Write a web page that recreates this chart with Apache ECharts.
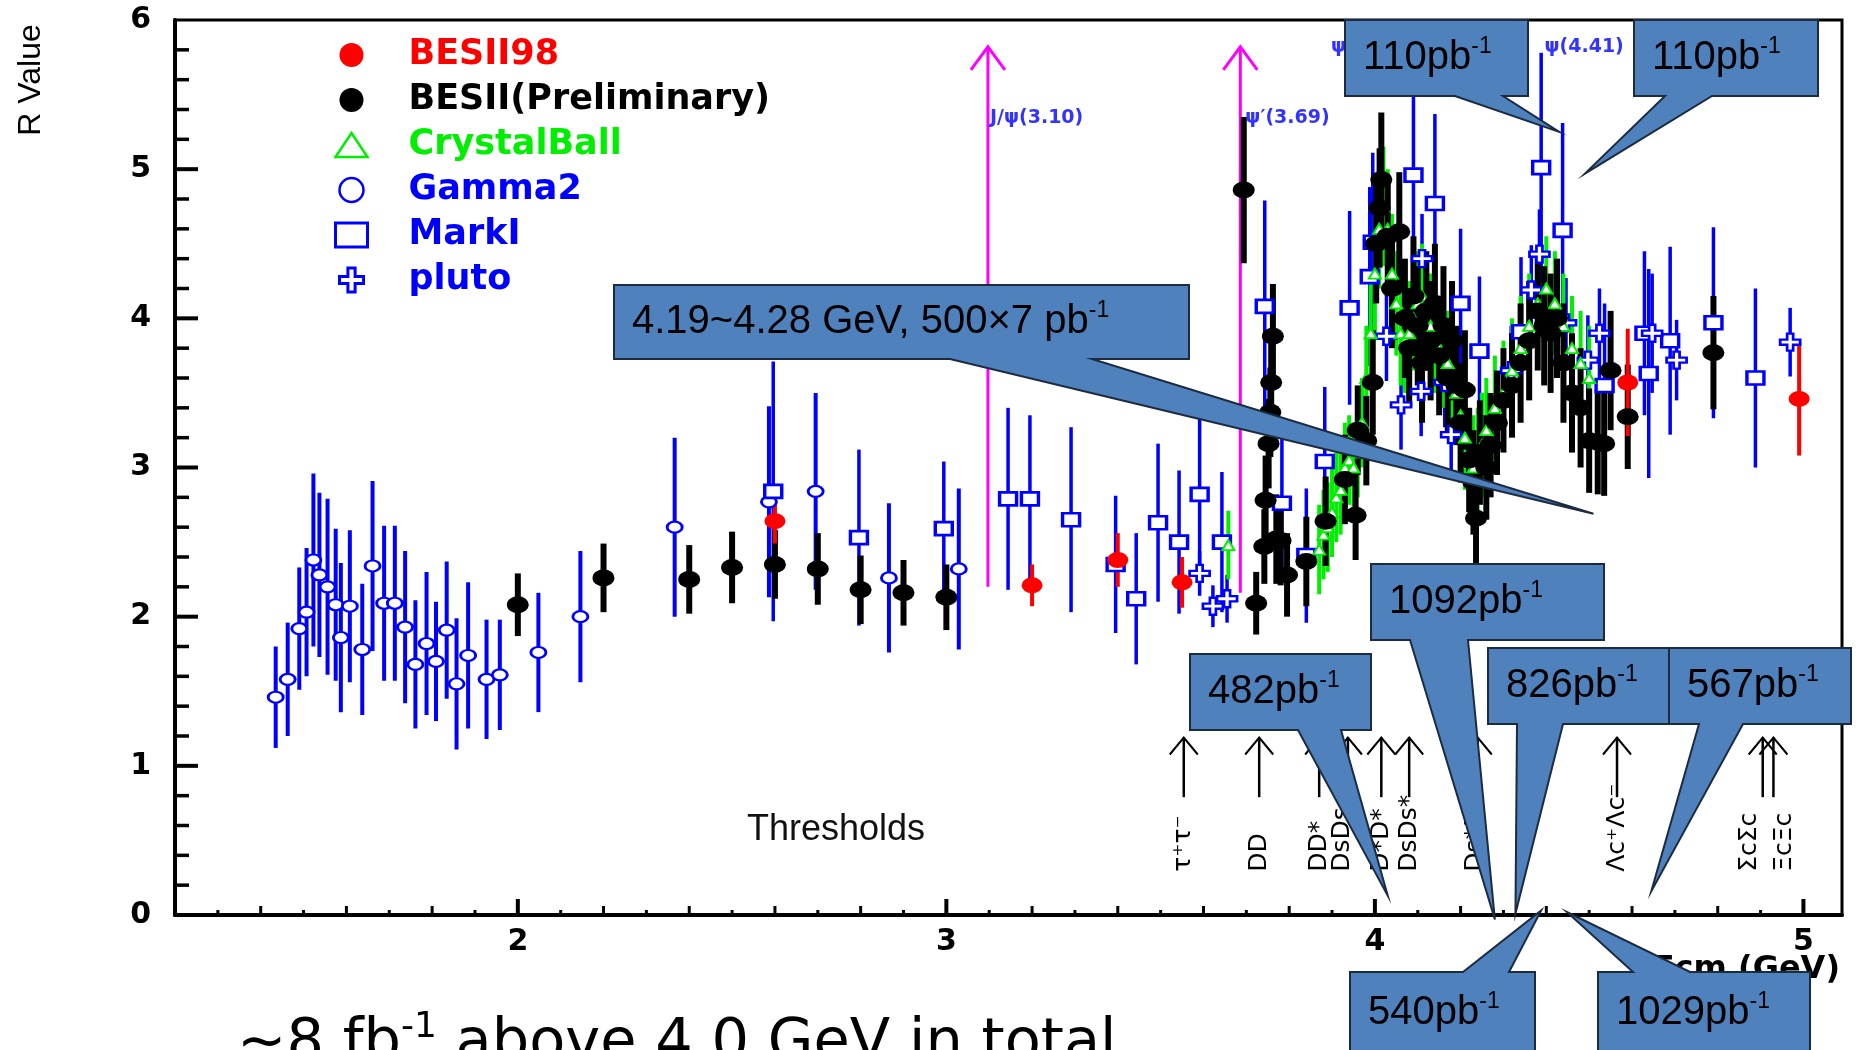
<!DOCTYPE html>
<html>
<head>
<meta charset="utf-8">
<script src="https://cdn.jsdelivr.net/npm/echarts@6/dist/echarts.min.js"></script>
<style>
  html, body { margin: 0; padding: 0; background: #fff; }
  #chart { width: 1860px; height: 1050px; }
</style>
</head>
<body>
<div id="chart"></div>
<script>
// ---- data: [Ecm (GeV), R, error] ----
const besii98 = [
  [2.600, 2.64, 0.15], [3.200, 2.21, 0.14], [3.400, 2.38, 0.18], [3.550, 2.23, 0.17],
  [4.590, 3.57, 0.36], [4.990, 3.46, 0.38]
];
const besii = [
  [2.000, 2.08, 0.21], [2.200, 2.26, 0.23], [2.400, 2.25, 0.23], [2.500, 2.33, 0.24],
  [2.600, 2.35, 0.23], [2.700, 2.32, 0.24], [2.800, 2.18, 0.23], [2.900, 2.16, 0.22],
  [3.000, 2.13, 0.22], [3.694, 4.86, 0.49], [3.723, 2.09, 0.21], [3.742, 2.47, 0.25],
  [3.745, 2.78, 0.30], [3.752, 3.16, 0.30], [3.756, 3.37, 0.30], [3.758, 3.57, 0.35],
  [3.762, 3.88, 0.35], [3.770, 2.52, 0.30], [3.780, 2.51, 0.30], [3.795, 2.28, 0.28],
  [3.840, 2.37, 0.30], [3.885, 2.64, 0.30], [3.930, 2.92, 0.30], [3.955, 2.68, 0.30],
  [3.960, 3.25, 0.30], [3.980, 3.18, 0.30], [3.995, 3.57, 0.35], [4.003, 4.50, 0.40],
  [4.011, 4.74, 0.40], [4.015, 4.93, 0.45], [4.030, 4.55, 0.40], [4.040, 4.20, 0.40],
  [4.057, 4.58, 0.40], [4.070, 4.00, 0.40], [4.080, 3.80, 0.40], [4.090, 4.15, 0.40],
  [4.100, 3.95, 0.40], [4.110, 3.70, 0.40], [4.120, 4.05, 0.40], [4.130, 3.85, 0.40],
  [4.140, 4.10, 0.40], [4.150, 3.75, 0.40], [4.160, 3.95, 0.40], [4.170, 3.60, 0.40],
  [4.180, 3.85, 0.40], [4.190, 3.55, 0.40], [4.200, 3.30, 0.40], [4.210, 3.52, 0.40],
  [4.220, 3.05, 0.35], [4.230, 2.90, 0.35], [4.236, 2.66, 0.35], [4.245, 3.10, 0.35],
  [4.260, 3.00, 0.35], [4.270, 3.15, 0.35], [4.285, 3.30, 0.35], [4.300, 3.45, 0.35],
  [4.320, 3.55, 0.35], [4.340, 3.70, 0.40], [4.360, 3.85, 0.40], [4.380, 4.05, 0.40],
  [4.395, 3.95, 0.40], [4.410, 3.90, 0.40], [4.425, 4.00, 0.40], [4.440, 3.70, 0.40],
  [4.460, 3.50, 0.40], [4.480, 3.40, 0.40], [4.500, 3.18, 0.35], [4.520, 3.17, 0.35],
  [4.535, 3.16, 0.35], [4.550, 3.65, 0.40], [4.590, 3.34, 0.35], [4.790, 3.77, 0.38]
];
const crystalBall = [
  [3.658, 2.48, 0.23], [3.870, 2.45, 0.30], [3.880, 2.55, 0.30], [3.890, 2.60, 0.30],
  [3.900, 2.70, 0.30], [3.910, 2.80, 0.30], [3.920, 2.85, 0.30], [3.930, 3.00, 0.30],
  [3.940, 3.05, 0.30], [3.950, 3.00, 0.30], [3.960, 3.10, 0.30], [3.970, 3.30, 0.30],
  [3.980, 3.60, 0.35], [3.990, 3.90, 0.35], [4.000, 4.30, 0.40], [4.010, 4.60, 0.40],
  [4.020, 4.75, 0.40], [4.030, 4.60, 0.40], [4.040, 4.30, 0.40], [4.050, 4.10, 0.35],
  [4.060, 3.90, 0.35], [4.070, 3.85, 0.35], [4.080, 3.90, 0.35], [4.090, 4.00, 0.35],
  [4.100, 4.10, 0.35], [4.110, 4.15, 0.35], [4.120, 4.05, 0.35], [4.130, 3.95, 0.35],
  [4.140, 3.85, 0.35], [4.150, 3.80, 0.35], [4.160, 3.75, 0.35], [4.170, 3.70, 0.35],
  [4.180, 3.60, 0.35], [4.190, 3.50, 0.35], [4.200, 3.35, 0.35], [4.210, 3.20, 0.35],
  [4.220, 3.05, 0.35], [4.230, 3.00, 0.35], [4.240, 3.05, 0.35], [4.250, 3.15, 0.35],
  [4.260, 3.25, 0.35], [4.280, 3.40, 0.35], [4.300, 3.50, 0.35], [4.320, 3.65, 0.35],
  [4.340, 3.80, 0.35], [4.360, 3.95, 0.35], [4.380, 4.10, 0.35], [4.400, 4.20, 0.35],
  [4.420, 4.10, 0.35], [4.440, 3.95, 0.35], [4.460, 3.80, 0.35], [4.480, 3.70, 0.35],
  [4.500, 3.60, 0.35]
];
const gamma2 = [
  [1.435, 1.46, 0.34], [1.463, 1.58, 0.38], [1.490, 1.92, 0.41], [1.507, 2.03, 0.43],
  [1.523, 2.38, 0.58], [1.537, 2.28, 0.55], [1.556, 2.20, 0.59], [1.575, 2.08, 0.51],
  [1.587, 1.86, 0.50], [1.608, 2.07, 0.51], [1.637, 1.78, 0.44], [1.661, 2.34, 0.57],
  [1.688, 2.09, 0.52], [1.713, 2.09, 0.52], [1.737, 1.93, 0.51], [1.761, 1.68, 0.43],
  [1.787, 1.82, 0.48], [1.809, 1.70, 0.40], [1.834, 1.91, 0.46], [1.857, 1.55, 0.44],
  [1.884, 1.74, 0.49], [1.927, 1.58, 0.40], [1.958, 1.61, 0.37], [2.048, 1.76, 0.40],
  [2.146, 2.00, 0.44], [2.366, 2.60, 0.60], [2.586, 2.77, 0.64], [2.695, 2.84, 0.66],
  [2.866, 2.26, 0.50], [3.029, 2.32, 0.54]
];
const markI = [
  [2.596, 2.84, 0.87], [2.796, 2.53, 0.59], [2.994, 2.59, 0.45], [3.144, 2.79, 0.61],
  [3.195, 2.79, 0.56], [3.291, 2.65, 0.62], [3.395, 2.35, 0.46], [3.443, 2.12, 0.44],
  [3.494, 2.63, 0.53], [3.543, 2.50, 0.48], [3.591, 2.82, 0.55], [3.643, 2.50, 0.47],
  [3.743, 4.08, 0.71], [3.783, 2.76, 0.50], [3.840, 2.41, 0.45], [3.883, 3.04, 0.50],
  [3.941, 4.07, 0.65], [3.988, 4.28, 0.60], [3.995, 4.51, 0.60], [4.090, 4.96, 0.55],
  [4.140, 4.77, 0.60], [4.200, 4.10, 0.50], [4.244, 3.78, 0.50], [4.341, 3.91, 0.50],
  [4.388, 5.01, 0.77], [4.438, 4.59, 0.72], [4.536, 3.55, 0.55], [4.629, 3.90, 0.55],
  [4.639, 3.63, 0.70], [4.689, 3.85, 0.63], [4.790, 3.97, 0.64], [4.888, 3.60, 0.60]
];
const pluto = [
  [3.591, 2.29, 0.15], [3.622, 2.07, 0.14], [3.655, 2.12, 0.16], [4.027, 3.88, 0.30],
  [4.061, 3.42, 0.30], [4.108, 3.51, 0.30], [4.110, 4.40, 0.30], [4.163, 3.57, 0.30],
  [4.178, 3.22, 0.30], [4.318, 3.65, 0.30], [4.365, 4.19, 0.30], [4.384, 4.43, 0.30],
  [4.446, 3.97, 0.30], [4.497, 3.72, 0.30], [4.524, 3.90, 0.30], [4.647, 3.90, 0.40],
  [4.704, 3.72, 0.27], [4.969, 3.84, 0.23]
];

// resonance arrows: [E, R from, R to]; labels: [text, E, R]
const resonanceArrows = [[3.097, 2.20, 5.82], [3.686, 2.16, 5.82]];
const resonanceLabels = [['J/ψ(3.10)', 3.097, 5.34], ['ψ′(3.69)', 3.693, 5.34], ['ψ(4.04)', 3.893, 5.82], ['ψ(4.41)', 4.391, 5.82]];

// thresholds: arrow energy, label energy, label
const thresholdE = [3.554, 3.730, 3.870, 3.937, 4.015, 4.080, 4.240, 4.565, 4.905, 4.930];
const thresholdLabelE = [3.554, 3.730, 3.870, 3.925, 4.015, 4.080, 4.235, 4.565, 4.875, 4.955];
const thresholdLabels = ['τ⁺τ⁻', 'DD', 'DD*', 'DsDs', 'D*D*', 'DsDs*', 'Ds*Ds*', 'Λc⁺Λc⁻', 'ΣcΣc', 'ΞcΞc'];

// luminosity callouts: text and the (E, R) each pointer aims at
const calloutText = ['110pb', '110pb', '4.19~4.28 GeV, 500×7 pb', '1092pb', '482pb', '826pb', '567pb', '540pb', '1029pb'];
const calloutTip = [[4.43, 5.25], [4.49, 4.97], [4.51, 2.69], [4.28, -0.03], [4.03, 0.13], [4.328, 0.01], [4.645, 0.16], [4.388, 0.03], [4.448, 0.02]];

// axis ticks
const xTicks = [2, 3, 4, 5];
const xMidTicks = [1.4, 1.6, 1.8, 2.2, 2.4, 2.6, 2.8, 3.2, 3.4, 3.6, 3.8, 4.2, 4.4, 4.6, 4.8];
const xSmallTicks = [1.3, 1.5, 1.7, 1.9, 2.1, 2.3, 2.5, 2.7, 2.9, 3.1, 3.3, 3.5, 3.7, 3.9, 4.1, 4.3, 4.5, 4.7, 4.9];
const yTicks = [1, 2, 3, 4, 5];
const ySmallTicks = [0.2, 0.4, 0.6, 0.8, 1.2, 1.4, 1.6, 1.8, 2.2, 2.4, 2.6, 2.8, 3.2, 3.4, 3.6, 3.8,
                     4.2, 4.4, 4.6, 4.8, 5.2, 5.4, 5.6, 5.8];

// callout box layout (pixels): [x, y, w, h], pointer base [x1, x2], side
const calloutBox = [
  [[1345, 20, 183, 76], [1455, 1503], 'bottom'],
  [[1634, 20, 184, 76], [1665, 1712], 'bottom'],
  [[614, 285, 575, 74], [950, 1092], 'bottom'],
  [[1371, 564, 233, 76], [1410, 1468], 'bottom'],
  [[1190, 654, 181, 76], [1298, 1341], 'bottom'],
  [[1488, 648, 181, 76], [1517, 1563], 'bottom'],
  [[1669, 648, 182, 76], [1699, 1743], 'bottom'],
  [[1350, 972, 185, 82], [1463, 1509], 'top'],
  [[1598, 972, 212, 82], [1633, 1690], 'top']
];

const X_MIN = 1.2, X_MAX = 5.09;
const ellipse = 'path://M0,10 A10,10 0 1,0 20,10 A10,10 0 1,0 0,10 Z';
const cross = 'path://M7,0 H13 V7 H20 V13 H13 V20 H7 V13 H0 V7 H7 Z';
const BLUE = '#0000ff';

const chart = echarts.init(document.getElementById('chart'));

function errorBars(name, data, color, width) {
  return {
    type: 'custom',
    name: name + ' err',
    data: data,
    silent: true,
    encode: { x: 0, y: 1 },
    renderItem: function (params, api) {
      const e = api.value(0), r = api.value(1), d = api.value(2);
      const lo = api.coord([e, r - d]);
      const hi = api.coord([e, r + d]);
      return {
        type: 'line',
        shape: { x1: lo[0], y1: lo[1], x2: hi[0], y2: hi[1] },
        style: { stroke: color, lineWidth: width }
      };
    }
  };
}

function markers(name, data, symbol, size, style) {
  return {
    type: 'scatter',
    name: name,
    data: data.map(p => [p[0], p[1]]),
    symbol: symbol,
    symbolSize: size,
    silent: true,
    itemStyle: Object.assign({ opacity: 1 }, style)
  };
}

const seriesList = [
  {
    type: 'custom',
    name: 'resonances',
    data: resonanceArrows,
    silent: true,
    renderItem: function (params, api) {
      const p0 = api.coord([api.value(0), api.value(1)]);
      const p1 = api.coord([api.value(0), api.value(2)]);
      return {
        type: 'group',
        children: [
          { type: 'line', shape: { x1: p0[0], y1: p0[1], x2: p1[0], y2: p1[1] }, style: { stroke: '#ff00ff', lineWidth: 3 } },
          { type: 'polyline', shape: { points: [[p1[0] - 17, p1[1] + 23], [p1[0], p1[1]], [p1[0] + 17, p1[1] + 23]] },
            style: { stroke: '#ff00ff', lineWidth: 3, fill: null } }
        ]
      };
    }
  },
  {
    type: 'custom',
    name: 'resonance labels',
    data: resonanceLabels.map(d => [d[1], d[2]]),
    silent: true,
    renderItem: function (params, api) {
      const p = api.coord([api.value(0), api.value(1)]);
      return {
        type: 'text', x: p[0] + 2, y: p[1],
        style: { text: resonanceLabels[params.dataIndex][0], fill: '#3333ff', fontSize: 19,
                 fontWeight: 'bold', fontFamily: 'DejaVu Sans', align: 'left', verticalAlign: 'middle' }
      };
    }
  },
  {
    type: 'custom',
    name: 'thresholds',
    data: thresholdE.map((e, i) => [e, thresholdLabelE[i]]),
    silent: true,
    renderItem: function (params, api) {
      const lo = api.coord([api.value(0), 0.79]);
      const hi = api.coord([api.value(0), 1.19]);
      const lab = api.coord([api.value(1), 0.29]);
      return {
        type: 'group',
        children: [
          { type: 'line', shape: { x1: lo[0], y1: lo[1], x2: hi[0], y2: hi[1] }, style: { stroke: '#000', lineWidth: 2.5 } },
          { type: 'polyline', shape: { points: [[hi[0] - 14, hi[1] + 17], [hi[0], hi[1]], [hi[0] + 14, hi[1] + 17]] },
            style: { stroke: '#000', lineWidth: 2, fill: null } },
          { type: 'text', x: lab[0], y: lab[1], rotation: Math.PI / 2,
            style: { text: thresholdLabels[params.dataIndex], fill: '#000', fontSize: 25,
                     fontFamily: 'DejaVu Sans', align: 'left', verticalAlign: 'middle' } }
        ]
      };
    }
  },
  errorBars('Gamma2', gamma2, BLUE, 4),
  markers('Gamma2', gamma2, ellipse, [15, 11], { color: '#fff', borderColor: BLUE, borderWidth: 2.5 }),
  errorBars('MarkI', markI, BLUE, 3.5),
  markers('MarkI', markI, 'rect', [17, 13], { color: '#fff', borderColor: BLUE, borderWidth: 3 }),
  errorBars('pluto', pluto, BLUE, 3.5),
  markers('pluto', pluto, cross, [20, 17], { color: '#fff', borderColor: BLUE, borderWidth: 2.5 }),
  errorBars('CrystalBall', crystalBall, '#00ee00', 4),
  markers('CrystalBall', crystalBall, 'triangle', [12, 10], { color: '#fff', borderColor: '#00ee00', borderWidth: 2 }),
  errorBars('BESII(Preliminary)', besii, '#000', 6),
  markers('BESII(Preliminary)', besii, ellipse, [22, 17], { color: '#000' }),
  errorBars('BESII98', besii98, '#ff0000', 4),
  markers('BESII98', besii98, ellipse, [21, 16], { color: '#ff0000' })
];

const legendText = { fontFamily: 'DejaVu Sans', fontWeight: 'bold', fontSize: 35, lineHeight: 40, padding: [0, 0, 0, 36] };

chart.setOption({
  animation: false,
  backgroundColor: '#fff',
  grid: { left: 175, right: 18, top: 20, bottom: 135, show: true, backgroundColor: 'transparent',
          borderColor: '#000', borderWidth: 3 },
  legend: {
    orient: 'vertical', left: 329, top: 30, itemWidth: 32, itemHeight: 24, itemGap: 5,
    selectedMode: false,
    textStyle: legendText,
    data: [
      { name: 'BESII98', itemStyle: { color: '#ff0000', borderWidth: 0 }, textStyle: Object.assign({}, legendText, { color: '#ff0000' }) },
      { name: 'BESII(Preliminary)', itemStyle: { color: '#000', borderWidth: 0 }, textStyle: Object.assign({}, legendText, { color: '#000' }) },
      { name: 'CrystalBall', itemStyle: { color: '#fff', borderColor: '#00ee00', borderWidth: 2.5 }, textStyle: Object.assign({}, legendText, { color: '#00ee00' }) },
      { name: 'Gamma2', itemStyle: { color: '#fff', borderColor: BLUE, borderWidth: 2.5 }, textStyle: Object.assign({}, legendText, { color: BLUE }) },
      { name: 'MarkI', itemStyle: { color: '#fff', borderColor: BLUE, borderWidth: 3 }, textStyle: Object.assign({}, legendText, { color: BLUE }) },
      { name: 'pluto', itemStyle: { color: '#fff', borderColor: BLUE, borderWidth: 3 }, textStyle: Object.assign({}, legendText, { color: BLUE }) }
    ]
  },
  xAxis: {
    type: 'value', min: X_MIN, max: X_MAX, position: 'bottom',
    axisLine: { show: true, onZero: false, lineStyle: { color: '#000', width: 4 } },
    axisTick: { show: false },
    axisLabel: { show: true, customValues: xTicks, margin: 12, color: '#000', fontSize: 30,
                 fontWeight: 'bold', fontFamily: 'DejaVu Sans' },
    splitLine: { show: false }
  },
  yAxis: {
    type: 'value', min: 0, max: 6, interval: 1,
    axisLine: { show: true, onZero: false, lineStyle: { color: '#000', width: 4 } },
    axisTick: { show: false },
    axisLabel: { margin: 24, color: '#000', fontSize: 30, fontWeight: 'bold', fontFamily: 'DejaVu Sans' },
    splitLine: { show: false }
  },
  series: seriesList
});

// annotations placed after the axes exist, so ticks and pointers follow the data scale
const graphics = [
  { type: 'text', x: 31, y: 80, rotation: Math.PI / 2,
    style: { text: 'R Value', fontSize: 32, fontFamily: 'Liberation Sans', fill: '#000', align: 'center', verticalAlign: 'middle' } },
  { type: 'text', x: 836, y: 830,
    style: { text: 'Thresholds', fontSize: 36, fontFamily: 'Liberation Sans', fill: '#111', align: 'center', verticalAlign: 'middle' } },
  { type: 'text', x: 1840, y: 970,
    style: { text: 'Ecm (GeV)', fontSize: 32, fontWeight: 'bold', fontFamily: 'DejaVu Sans', fill: '#000', align: 'right', verticalAlign: 'middle' } },
  { type: 'text', x: 237, y: 1010,
    style: {
      text: '{a|~8 fb}{s|-1}{a| above 4.0 GeV in total}', align: 'left', verticalAlign: 'top',
      rich: {
        a: { fontSize: 59, fontFamily: 'DejaVu Sans', color: '#000', lineHeight: 70 },
        s: { fontSize: 36, fontFamily: 'DejaVu Sans', color: '#000', verticalAlign: 'top', lineHeight: 70 }
      }
    } }
];

// inward tick marks
function addTicks(values, axis, len, width) {
  values.forEach(function (v) {
    const p = chart.convertToPixel({ gridIndex: 0 }, axis === 'x' ? [v, 0] : [X_MIN, v]);
    const shape = axis === 'x'
      ? { x: p[0] - width / 2, y: p[1] - len, width: width, height: len }
      : { x: p[0], y: p[1] - width / 2, width: len, height: width };
    graphics.push({ type: 'rect', z: 50, silent: true, shape: shape, style: { fill: '#000' } });
  });
}
addTicks(xTicks, 'x', 16, 4);
addTicks(xMidTicks, 'x', 9, 3);
addTicks(xSmallTicks, 'x', 5, 3);
addTicks(yTicks, 'y', 23, 4);
addTicks(ySmallTicks, 'y', 14, 3.5);

calloutText.forEach(function (txt, i) {
  const box = calloutBox[i][0], base = calloutBox[i][1], side = calloutBox[i][2];
  const tip = chart.convertToPixel({ gridIndex: 0 }, calloutTip[i]);
  const x = box[0], y = box[1], w = box[2], h = box[3];
  let pts;
  if (side === 'bottom') {
    pts = [[x, y], [x + w, y], [x + w, y + h], [base[1], y + h], tip, [base[0], y + h], [x, y + h]];
  } else {
    pts = [[x, y], [base[0], y], tip, [base[1], y], [x + w, y], [x + w, y + h], [x, y + h]];
  }
  graphics.push({
    type: 'polygon', z: 100, shape: { points: pts },
    style: { fill: '#4f81bd', stroke: '#1c2b40', lineWidth: 2 }
  });
  graphics.push({
    type: 'text', z: 101, x: x + 18, y: y + h / 2,
    style: {
      text: '{a|' + txt + '}{s|-1}', align: 'left', verticalAlign: 'middle',
      rich: {
        a: { fontSize: 40, fontFamily: 'Liberation Sans', color: '#000', lineHeight: 46 },
        s: { fontSize: 23, fontFamily: 'Liberation Sans', color: '#000', verticalAlign: 'top', lineHeight: 46 }
      }
    }
  });
});

chart.setOption({ graphic: graphics });
</script>
</body>
</html>
